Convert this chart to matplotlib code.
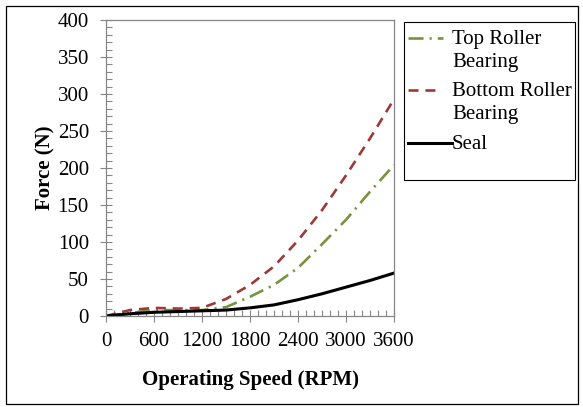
import matplotlib.pyplot as plt
from matplotlib.ticker import MultipleLocator
from matplotlib.lines import Line2D
from matplotlib.patches import Rectangle

plt.rcParams['font.family'] = ['Liberation Serif', 'DejaVu Serif']

# Force vs. operating speed
rpm = [0, 300, 600, 900, 1200, 1500, 1800, 2100, 2400, 2700, 3000, 3300, 3600]
top_bearing = [0, 4, 8, 8, 8, 12, 26, 42, 65, 97, 130, 168, 204]
bottom_bearing = [0, 8, 11, 10, 11, 23, 42, 67, 102, 143, 190, 240, 293]
seal = [0, 3, 5, 6, 7, 8, 11, 15, 22, 30, 39, 48, 58]

labels = [["Top Roller", "Bearing"], ["Bottom Roller", "Bearing"], ["Seal"]]
green = '#77933C'
red = '#9B3A38'
grey = '#868686'

W, H = 583, 407
fig = plt.figure(figsize=(W / 100, H / 100), dpi=100)
ax = fig.add_axes([106 / W, 1 - 316 / H, 288 / W, 296 / H])

ls_top = (0, (5.7, 2.3, 0.8, 2.3))
ls_bot = (0, (3.8, 2.6))
styles = [dict(color=green, lw=1.9, linestyle=ls_top),
          dict(color=red, lw=1.9, linestyle=ls_bot),
          dict(color='black', lw=2.2)]

for ys, st in zip([top_bearing, bottom_bearing, seal], styles):
    ax.plot(rpm, ys, **st)

ax.set_xlim(0, 3600)
ax.set_ylim(0, 400)
ax.xaxis.set_major_locator(MultipleLocator(600))
ax.xaxis.set_minor_locator(MultipleLocator(100))
ax.yaxis.set_major_locator(MultipleLocator(50))
ax.yaxis.set_minor_locator(MultipleLocator(10))
ax.tick_params(which='major', direction='inout', length=8.6, width=0.8,
               color=grey, labelsize=15)
ax.tick_params(axis='y', which='major', pad=8)
ax.tick_params(axis='x', which='major', pad=7)
ax.tick_params(which='minor', direction='in', length=4.3, width=0.8, color=grey)
for s in ax.spines.values():
    s.set_color(grey)
    s.set_linewidth(0.9)

fig.text(250 / W, 1 - 380 / H, "Operating Speed (RPM)", fontsize=15,
         fontweight='bold', ha='center', va='center')
fig.text(45 / W, 1 - 168 / H, "Force (N)", fontsize=15, fontweight='bold',
         ha='center', va='center', rotation=90)

# legend box: handle sits beside the first line of each label
fig.add_artist(Rectangle((404 / W, 1 - 180 / H), 171 / W, 158 / H,
                         transform=fig.transFigure, fill=False,
                         edgecolor='black', lw=0.8))
rows = [38, 90, 143]
ends = [443, 441, 452]
for y, lines, st, x1 in zip(rows, labels, styles, ends):
    fig.add_artist(Line2D([408 / W, x1 / W], [1 - y / H, 1 - y / H],
                          transform=fig.transFigure, **st))
    for i, line in enumerate(lines):
        base = y + 6 + 23 * i
        fig.text(452 / W, 1 - base / H, line, fontsize=15, ha='left',
                 va='baseline')

# outer frame
fig.add_artist(Rectangle((6 / W, 3 / H), 572 / W, 398 / H,
                         transform=fig.transFigure, fill=False,
                         edgecolor='black', lw=0.9))

fig.savefig("out.png", dpi=100)
